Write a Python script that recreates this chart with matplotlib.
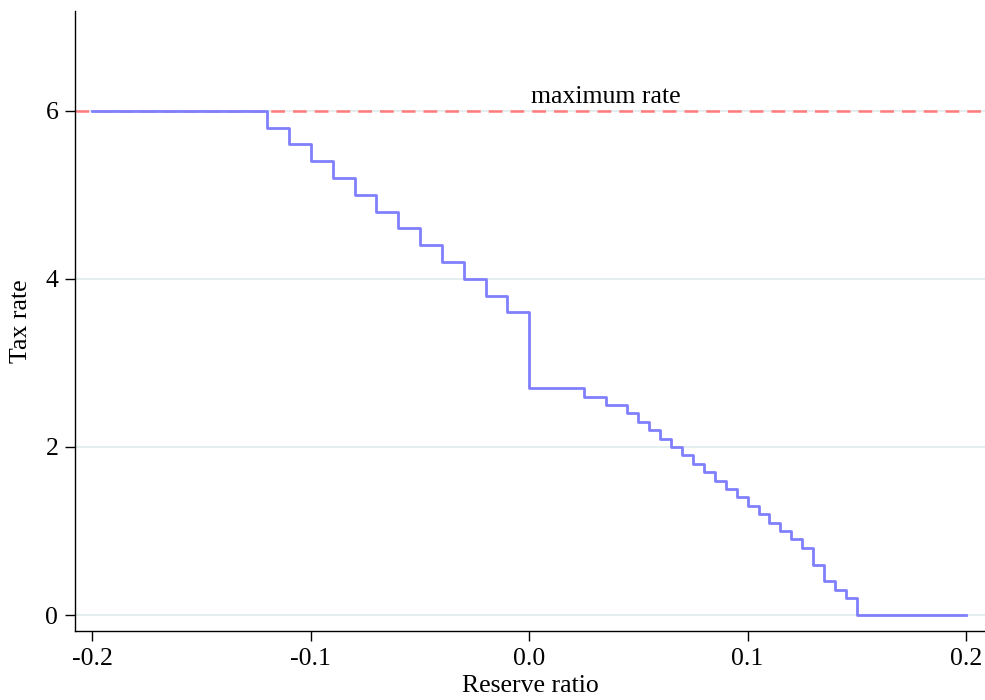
import matplotlib
matplotlib.use("Agg")
import matplotlib.pyplot as plt

plt.rcParams['font.family'] = ['Liberation Serif', 'DejaVu Serif']
plt.rcParams['axes.unicode_minus'] = False

# step breakpoints (reserve ratio) and tax rate from that point on
reserve_ratio = [-0.200, -0.120, -0.110, -0.100, -0.090, -0.080, -0.070, -0.060,
                 -0.050, -0.040, -0.030, -0.020, -0.010, 0.000, 0.025, 0.035,
                 0.045, 0.050, 0.055, 0.060, 0.065, 0.070, 0.075, 0.080,
                 0.085, 0.090, 0.095, 0.100, 0.105, 0.110, 0.115, 0.120,
                 0.125, 0.130, 0.135, 0.140, 0.145, 0.150, 0.200]
tax_rate = [6.0, 5.8, 5.6, 5.4, 5.2, 5.0, 4.8, 4.6,
            4.4, 4.2, 4.0, 3.8, 3.6, 2.7, 2.6, 2.5,
            2.4, 2.3, 2.2, 2.1, 2.0, 1.9, 1.8, 1.7,
            1.6, 1.5, 1.4, 1.3, 1.2, 1.1, 1.0, 0.9,
            0.8, 0.6, 0.4, 0.3, 0.2, 0.0, 0.0]
max_rate = 6
x_ticks = [-0.2, -0.1, 0.0, 0.1, 0.2]
x_ticklabels = ["-0.2", "-0.1", "0.0", "0.1", "0.2"]
y_ticks = [0, 2, 4, 6]

fs = 18.5

fig = plt.figure(figsize=(9.85, 7.0), dpi=100)
ax = fig.add_axes([0.0761, 0.0986, 0.9239, 0.886])

for yv in y_ticks:
    ax.axhline(yv, color="#e3eded", linewidth=1.3, zorder=0)

ax.axhline(max_rate, color="#ff7b7b", linewidth=1.8, dashes=(5.5, 3.2), zorder=1)
ax.text(0.035, 6.03, "maximum rate", ha="center", va="bottom", fontsize=fs)

ax.plot(reserve_ratio, tax_rate, drawstyle="steps-post", color="#8080ff",
        linewidth=2.0, zorder=2)

ax.set_xlim(-0.208, 0.2087)
ax.set_ylim(-0.19, 7.19)
ax.set_xticks(x_ticks)
ax.set_xticklabels(x_ticklabels)
ax.set_yticks(y_ticks)
ax.tick_params(axis="both", labelsize=fs, length=7, width=1, pad=5)

for side in ["top", "right"]:
    ax.spines[side].set_visible(False)
for side in ["left", "bottom"]:
    ax.spines[side].set_linewidth(1)

ax.set_xlabel("Reserve ratio", fontsize=fs, labelpad=4)
ax.set_ylabel("Tax rate", fontsize=fs, labelpad=10)

fig.savefig("out.png", dpi=100)
